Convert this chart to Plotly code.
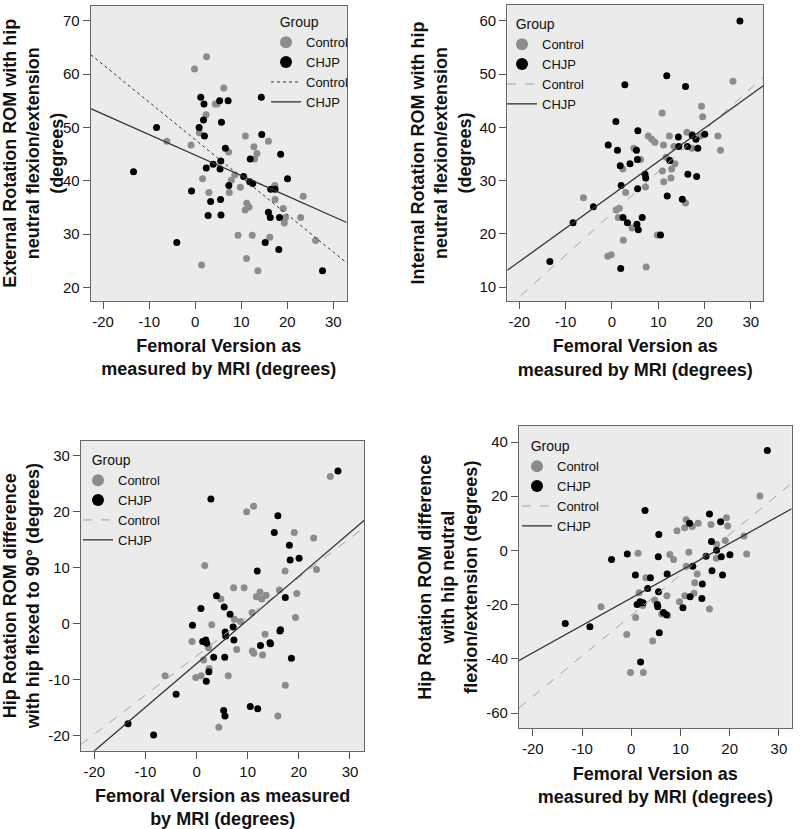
import numpy as np
import plotly.graph_objects as go

# ---------------- data ----------------
fv_chjp = [-13.4, -8.4, -4.0, -0.8, 0.85, 1.2, 1.8, 1.9, 2.0, 2.4, 2.8, 3.35, 3.9, 5.3, 5.4, 5.5, 5.55, 5.6, 5.7,
           6.55, 7.15, 7.3, 10.5, 11.85, 11.95, 12.5, 14.35, 14.45, 15.2, 15.9, 16.3, 16.4, 17.35, 18.15, 18.3,
           18.55, 20.05, 27.65]
er_chjp = [41.7, 50.0, 28.4, 38.1, 50.0, 55.7, 51.4, 54.4, 48.4, 42.4, 33.5, 36.1, 43.1, 55.0, 42.2, 36.5, 43.7,
           33.6, 51.0, 46.1, 55.0, 39.1, 40.8, 39.8, 44.1, 39.5, 55.7, 48.7, 28.4, 34.1, 33.1, 38.4, 38.4, 27.1,
           33.1, 45.0, 40.4, 23.1]
ir_chjp = [14.8, 22.1, 25.1, 36.7, 41.1, 35.7, 32.8, 13.5, 29.1, 23.1, 48.0, 22.1, 33.2, 35.7, 21.8, 34.0, 28.5,
           39.4, 20.8, 23.1, 31.2, 30.5, 19.8, 49.7, 27.1, 33.8, 38.2, 36.4, 26.5, 47.7, 36.4, 31.2, 38.5, 37.8,
           30.8, 36.1, 38.7, 60.0]
dflex_chjp = [-17.9, -19.9, -12.6, -0.3, 2.7, -3.2, -2.9, -10.3, -3.5, -8.6, 22.3, -6.0, 5.0, -15.5, 3.0, -6.0,
              -16.5, -1.5, -2.2, 1.7, -0.6, -2.9, -14.8, 9.4, -15.2, -3.9, -3.4, -3.6, 16.3, 19.3, -1.3, -1.1,
              4.7, 14.0, 11.4, -6.2, 11.7, 27.3]
dneut_chjp = [-26.9, -28.1, -3.3, -1.3, -9.1, -19.9, -18.9, -41.1, -19.3, -19.3, 14.7, -14.0, -10.1, -19.9,
              -20.8, -2.3, -15.2, 5.9, -30.4, -22.9, -23.7, -8.7, -21.1, 10.0, -17.1, -5.8, -17.7, -12.4, -2.1,
              13.4, 3.3, -7.5, 0.1, 10.6, -2.3, -9.1, -1.6, 36.9]

fv_ctrl = [-6.15, -0.9, -0.15, 0.9, 1.38, 1.6, 2.35, 2.46, 2.97, 4.35, 4.75, 6.2, 7.25, 7.4, 7.85, 8.6, 9.3, 9.8,
           10.85, 10.9, 11.15, 11.2, 11.7, 12.4, 12.75, 12.9, 13.4, 13.6, 15.9, 16.2, 17.3, 17.35, 19.1, 19.35,
           19.6, 22.9, 23.45, 26.15]
er_ctrl = [47.4, 46.7, 61.0, 49.0, 24.2, 40.4, 52.4, 63.3, 37.8, 54.4, 54.4, 57.4, 45.4, 37.8, 40.1, 41.1, 29.8,
           38.8, 34.5, 48.4, 25.4, 35.8, 35.1, 29.8, 46.4, 44.1, 45.1, 23.1, 47.4, 29.4, 39.1, 36.5, 34.8, 32.1,
           33.1, 33.1, 37.1, 28.8]
ir_ctrl = [26.8, 15.8, 16.1, 24.5, 23.1, 24.8, 32.2, 18.8, 27.8, 21.1, 36.1, 34.0, 28.8, 13.8, 38.4, 37.8, 37.2,
           19.8, 42.7, 31.8, 36.7, 29.8, 34.4, 38.4, 30.5, 32.2, 36.4, 33.2, 25.8, 39.1, 36.1, 38.7, 38.4, 44.0,
           42.0, 38.4, 35.7, 48.7]
dflex_ctrl = [-9.3, -3.2, -9.6, -9.3, -6.5, 10.4, -4.3, -8.0, -0.2, -18.5, 4.4, -9.3, 6.4, 0.8, -4.6, 0.4, 6.4,
              20.0, 2.0, -4.9, 21.0, -5.3, 4.8, 5.65, 4.4, -5.6, -1.9, 5.1, -16.5, 6.0, 9.4, -11.0, 16.3, 1.1,
              5.4, 15.3, 9.7, 26.3]
dneut_ctrl = [-20.8, -31.0, -45.0, -24.7, -1.0, -15.6, -20.3, -45.0, -10.1, -33.4, -18.3, -23.4, -16.7, -24.0,
              -1.5, -3.3, 7.3, -18.9, 8.4, -16.7, 11.3, -5.8, -0.7, 8.8, -15.8, -11.9, -8.7, 10.0, -21.6, 9.6,
              -2.9, 2.2, 3.7, 12.1, 9.0, 5.3, -1.3, 20.1]

x_ticks = [-20, -10, 0, 10, 20, 30]
x_ticktext = ["-20", "-10", "0", "10", "20", "30"]
y_ticks = [[20, 30, 40, 50, 60, 70], [10, 20, 30, 40, 50, 60], [-20, -10, 0, 10, 20, 30], [-60, -40, -20, 0, 20, 40]]
y_ticktext = [["20", "30", "40", "50", "60", "70"], ["10", "20", "30", "40", "50", "60"],
              ["-20", "-10", "0", "10", "20", "30"], ["-60", "-40", "-20", "0", "20", "40"]]
y_titles = ["External Rotation ROM with hip<br>neutral flexion/extension<br>(degrees)",
            "Internal Rotation ROM with hip<br>neutral flexion/extension<br>(degrees)",
            "Hip Rotation ROM difference<br>with hip flexed to 90° (degrees)",
            "Hip Rotation ROM difference<br>with hip neutral<br>flexion/extension (degrees)"]
x_titles = ["Femoral Version as<br>measured by MRI (degrees)",
            "Femoral Version as<br>measured by MRI (degrees)",
            "Femoral Version as measured<br>by MRI (degrees)",
            "Femoral Version as<br>measured by MRI (degrees)"]
groups = ["Control", "CHJP"]
legend_title = "&nbsp;&nbsp;&nbsp;Group"

# ---------------- layout geometry ----------------
W, H = 800, 829
boxes = [(90.7, 6, 346.7, 300.7), (507.3, 5, 763.3, 301), (81, 440.7, 364.3, 750.7), (519, 426, 791.7, 728.3)]
x_ranges = [[-22.7, 32.9], [-22.6, 32.7], [-22.6, 32.8], [-22.8, 32.6]]
y_ranges = [[17.5, 72.8], [7.4, 63.0], [-22.7, 32.7], [-65.6, 45.9]]
legend_pos = [(266, 9), (502, 11), (78, 447), (517, 433)]
y_standoff = [5, 3, 5, 3]
ctrl_line_colors = ["#333333", "#a0a0a0", "#a0a0a0", "#a0a0a0"]
pt_colors = ["#8c8c8c", "#000000"]

ys_ctrl = [er_ctrl, ir_ctrl, dflex_ctrl, dneut_ctrl]
ys_chjp = [er_chjp, ir_chjp, dflex_chjp, dneut_chjp]

fig = go.Figure()
font = "Liberation Sans, Arial, sans-serif"

for i in range(4):
    ax = "" if i == 0 else str(i + 1)
    xa, ya = "x" + ax, "y" + ax
    lg = "legend" + ax
    xr = x_ranges[i]
    # legend-only marker entries (larger symbols, as in the original legend)
    for gi in range(2):
        fig.add_trace(go.Scatter(x=[None], y=[None], mode="markers", name=groups[gi], xaxis=xa, yaxis=ya,
                                 legend=lg, marker=dict(color=pt_colors[gi], size=12)))
    fig.add_trace(go.Scatter(x=fv_ctrl, y=ys_ctrl[i], mode="markers", name=groups[0], xaxis=xa, yaxis=ya,
                             showlegend=False, marker=dict(color=pt_colors[0], size=7)))
    fig.add_trace(go.Scatter(x=fv_chjp, y=ys_chjp[i], mode="markers", name=groups[1], xaxis=xa, yaxis=ya,
                             showlegend=False, marker=dict(color=pt_colors[1], size=7)))
    for gi, (fx, fy) in enumerate([(fv_ctrl, ys_ctrl[i]), (fv_chjp, ys_chjp[i])]):
        b, a = np.polyfit(fx, fy, 1)
        lx = np.array(xr)
        if gi == 0:
            line = dict(color=ctrl_line_colors[i], width=1, dash="dot" if i == 0 else "dash")
        else:
            line = dict(color="#333333", width=1.3)
        fig.add_trace(go.Scatter(x=lx, y=a + b * lx, mode="lines", name=groups[gi], xaxis=xa, yaxis=ya,
                                 legend=lg, line=line))
    x0, y0, x1, y1 = boxes[i]
    fig.layout["xaxis" + ax] = dict(domain=[x0 / W, x1 / W], anchor=ya, range=xr, tickvals=x_ticks,
                                    ticktext=x_ticktext, automargin=False,
                                    ticks="outside", ticklen=7, tickcolor="#555", showgrid=False, zeroline=False,
                                    showline=True, mirror=True, linecolor="#666", linewidth=1.2,
                                    tickfont=dict(size=15, color="#111", family=font),
                                    title=dict(text=x_titles[i], font=dict(size=18, family=font, color="#111",
                                                                           weight="bold"), standoff=10))
    fig.layout["yaxis" + ax] = dict(domain=[1 - y1 / H, 1 - y0 / H], anchor=xa, range=y_ranges[i],
                                    automargin=False, tickvals=y_ticks[i], ticktext=y_ticktext[i],
                                    ticks="outside", ticklen=7, tickcolor="#555",
                                    showgrid=False, zeroline=False, showline=True, mirror=True, linecolor="#666",
                                    linewidth=1.2, tickfont=dict(size=15, color="#111", family=font),
                                    title=dict(text=y_titles[i], font=dict(size=18, family=font, color="#111",
                                                                           weight="bold"), standoff=y_standoff[i]))
    lx0, ly0 = legend_pos[i]
    fig.layout[lg] = dict(x=lx0 / W, y=1 - ly0 / H, xanchor="left", yanchor="top", bgcolor="rgba(0,0,0,0)",
                          title=dict(text=legend_title, font=dict(size=14, family=font, color="#111")),
                          font=dict(size=13, family=font, color="#111"), itemsizing="trace",
                          tracegroupgap=0, itemwidth=30)

fig.update_layout(width=W, height=H, margin=dict(l=0, r=0, t=0, b=0), paper_bgcolor="white",
                  plot_bgcolor="#ebebeb", showlegend=True)
fig.write_html("out.html", post_script="document.body.style.margin='0';",
               config={"displayModeBar": False})
